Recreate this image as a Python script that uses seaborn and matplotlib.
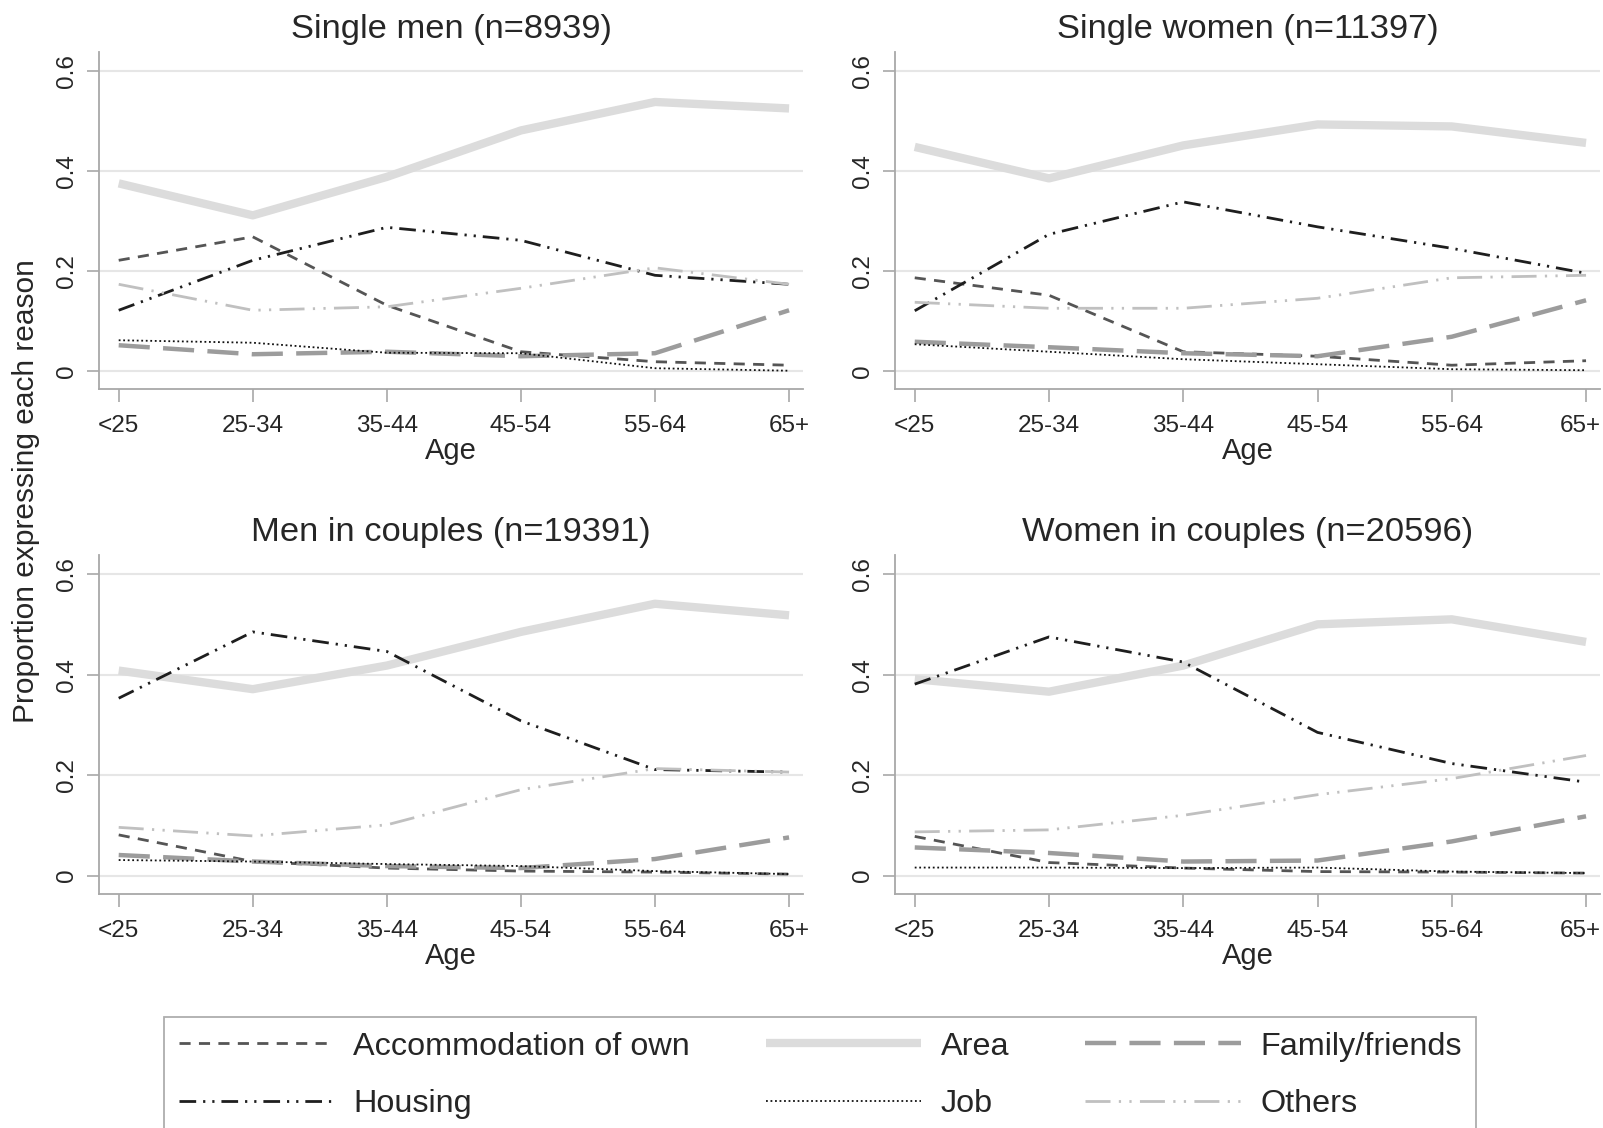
import pandas as pd
import matplotlib
matplotlib.use("Agg")
import matplotlib.pyplot as plt
import matplotlib.transforms as mtransforms
import seaborn as sns

ages = ['<25', '25-34', '35-44', '45-54', '55-64', '65+']
reasons = ['Accommodation of own', 'Area', 'Family/friends', 'Housing', 'Job', 'Others']
panel_titles = ['Single men (n=8939)', 'Single women (n=11397)',
                'Men in couples (n=19391)', 'Women in couples (n=20596)']

# values, one list per reason and panel
single_men = {
    'Accommodation of own': [0.221, 0.268, 0.131, 0.038, 0.018, 0.011],
    'Area':                 [0.375, 0.311, 0.388, 0.481, 0.538, 0.525],
    'Family/friends':       [0.051, 0.033, 0.038, 0.029, 0.035, 0.121],
    'Housing':              [0.121, 0.221, 0.287, 0.261, 0.191, 0.173],
    'Job':                  [0.061, 0.056, 0.036, 0.035, 0.005, 0.000],
    'Others':               [0.173, 0.121, 0.128, 0.165, 0.206, 0.173],
}
single_women = {
    'Accommodation of own': [0.186, 0.151, 0.038, 0.029, 0.011, 0.020],
    'Area':                 [0.448, 0.385, 0.451, 0.493, 0.489, 0.456],
    'Family/friends':       [0.058, 0.047, 0.035, 0.029, 0.068, 0.141],
    'Housing':              [0.120, 0.273, 0.338, 0.288, 0.245, 0.195],
    'Job':                  [0.053, 0.038, 0.023, 0.013, 0.003, 0.001],
    'Others':               [0.137, 0.125, 0.125, 0.145, 0.186, 0.191],
}
men_couples = {
    'Accommodation of own': [0.081, 0.028, 0.015, 0.009, 0.007, 0.003],
    'Area':                 [0.408, 0.371, 0.418, 0.485, 0.541, 0.518],
    'Family/friends':       [0.041, 0.028, 0.019, 0.015, 0.033, 0.076],
    'Housing':              [0.353, 0.485, 0.446, 0.308, 0.211, 0.206],
    'Job':                  [0.031, 0.028, 0.023, 0.019, 0.009, 0.003],
    'Others':               [0.096, 0.079, 0.101, 0.171, 0.213, 0.206],
}
women_couples = {
    'Accommodation of own': [0.078, 0.026, 0.015, 0.008, 0.007, 0.005],
    'Area':                 [0.391, 0.366, 0.418, 0.500, 0.510, 0.465],
    'Family/friends':       [0.056, 0.045, 0.028, 0.030, 0.068, 0.118],
    'Housing':              [0.381, 0.475, 0.425, 0.285, 0.223, 0.186],
    'Job':                  [0.016, 0.016, 0.015, 0.016, 0.008, 0.005],
    'Others':               [0.087, 0.091, 0.120, 0.161, 0.193, 0.239],
}
panels = [single_men, single_women, men_couples, women_couples]

styles = {
    'Accommodation of own': dict(color='#555555', lw=2.0, ls=(0, (4, 3))),
    'Area':                 dict(color='#dcdcdc', lw=6.0, ls='-'),
    'Family/friends':       dict(color='#9c9c9c', lw=3.2, ls=(0, (7, 3))),
    'Housing':              dict(color='#1e1e1e', lw=2.0, ls=(0, (6, 2.5, 0.8, 2.5, 0.8, 2.5))),
    'Job':                  dict(color='#111111', lw=1.3, ls=(0, (1, 1.5))),
    'Others':               dict(color='#c0c0c0', lw=2.0, ls=(0, (9, 3, 0.8, 3, 0.8, 3))),
}

sns.set_style('white')
plt.rcParams['font.family'] = ['Liberation Sans', 'DejaVu Sans']

fig = plt.figure(figsize=(16.03, 11.28), dpi=100)
W, H = 1603, 1128
boxes = [(99, 52, 803, 389), (895, 52, 1600, 389),
         (99, 555, 803, 894), (895, 555, 1600, 894)]

handles = {}
for i, ((l, t, r, b), title, data) in enumerate(zip(boxes, panel_titles, panels)):
    ax = fig.add_axes([l / W, 1 - b / H, (r - l) / W, (b - t) / H])
    for reason in reasons:
        df = pd.DataFrame({'Age': ages, 'value': data[reason]})
        st = styles[reason]
        sns.lineplot(data=df, x='Age', y='value', ax=ax, color=st['color'],
                     linewidth=st['lw'], linestyle=st['ls'], sort=False,
                     solid_capstyle='butt', dash_capstyle='butt')
        handles[reason] = ax.lines[-1]
    ax.set_xlim(-0.147, 5.104)
    ax.set_ylim(-0.0366, 0.638)
    ax.set_yticks([0, 0.2, 0.4, 0.6])
    ax.set_yticklabels(['0', '0.2', '0.4', '0.6'], rotation=90, va='center')
    ax.grid(axis='y', color='#e6e6e6', lw=1.5)
    ax.set_axisbelow(True)
    for s in ['top', 'right']:
        ax.spines[s].set_visible(False)
    for s in ['left', 'bottom']:
        ax.spines[s].set_color('#a8a8a8')
        ax.spines[s].set_linewidth(1.3)
    ax.tick_params(axis='both', length=9, width=1.2, color='#a8a8a8',
                   labelsize=17.5, left=True, bottom=True)
    ax.tick_params(axis='x', pad=10)
    ax.tick_params(axis='y', pad=6)
    ax.set_xlabel('Age', fontsize=21, labelpad=0)
    ax.set_ylabel('')
    ax.set_title(title, fontsize=24.8, pad=10)
    if i % 2 == 1:
        # keep the last label inside the figure, as the original does
        lab = ax.get_xticklabels()[-1]
        lab.set_transform(lab.get_transform() +
                          mtransforms.ScaledTranslation(-6 / 100, 0, fig.dpi_scale_trans))

fig.text(26 / W, 1 - 491 / H, 'Proportion expressing each reason',
         rotation=90, fontsize=21.5, ha='center', va='center')

order = ['Accommodation of own', 'Housing', 'Area', 'Job', 'Family/friends', 'Others']
leg = fig.legend([handles[k] for k in order], order, ncol=3, loc='upper left',
                 bbox_to_anchor=(164 / W, 1 - 1017 / H), fontsize=23.3,
                 handlelength=4.8, handletextpad=0.6, columnspacing=2.35,
                 labelspacing=0.85, frameon=True, fancybox=False,
                 borderpad=0.45, borderaxespad=0)
leg.get_frame().set_edgecolor('#9a9a9a')
leg.get_frame().set_linewidth(1.3)

fig.savefig('out.png', dpi=100)
